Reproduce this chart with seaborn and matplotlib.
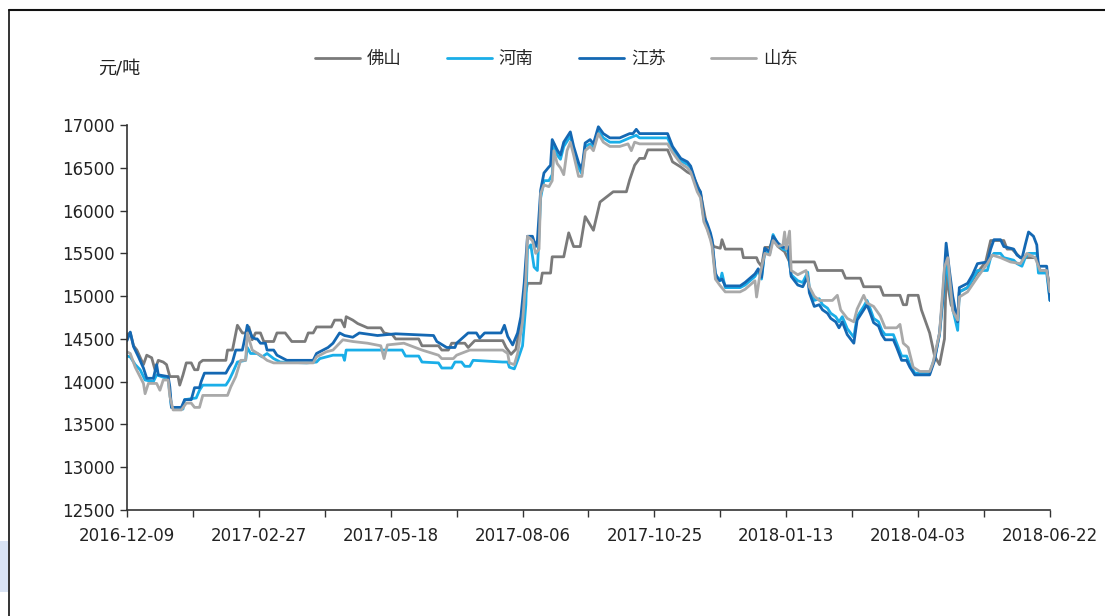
import pandas as pd
import seaborn as sns
import matplotlib.pyplot as plt
import matplotlib.patches as mpatches
from matplotlib.lines import Line2D

# Daily price data, read as change points (days since 2016-12-09)
start = pd.Timestamp('2016-12-09')
end = pd.Timestamp('2018-06-22')

fs_day = [0, 2, 4, 6, 10, 12, 15, 17, 19, 22, 24, 26, 31, 32, 34, 36, 39, 41, 43, 44, 46, 60, 61, 64, 67, 70,
          73, 74, 76, 78, 81, 83, 89, 91, 96, 100, 108, 110, 113, 115, 124, 126, 130, 132, 133, 137, 140, 146,
          154, 156, 161, 163, 177, 179, 189, 191, 195, 197, 205, 207, 211, 228, 230, 233, 236, 238, 241, 243,
          251, 252, 257, 258, 265, 268, 271, 275, 278, 283, 287, 291, 295, 303, 305, 308, 311, 314, 316, 328,
          330, 331, 336, 340, 343, 346, 348, 350, 352, 354, 356, 360, 361, 363, 373, 374, 382, 383, 385, 387,
          390, 392, 395, 399, 402, 417, 419, 434, 436, 445, 447, 457, 459, 469, 471, 473, 474, 480, 482, 487,
          490, 493, 496, 497, 500, 504, 505, 510, 515, 521, 524, 532, 534, 537, 542, 552, 554, 558, 560]
fs_val = [14550, 14570, 14420, 14370, 14200, 14310, 14280, 14140, 14250, 14230, 14200, 14060, 14060, 13960,
          14080, 14220, 14220, 14140, 14140, 14220, 14250, 14250, 14370, 14370, 14660, 14570, 14570, 14640,
          14490, 14570, 14570, 14470, 14470, 14570, 14570, 14470, 14470, 14570, 14570, 14640, 14640, 14720,
          14720, 14640, 14760, 14720, 14680, 14630, 14630, 14570, 14550, 14500, 14500, 14420, 14420, 14370,
          14370, 14450, 14450, 14400, 14480, 14480, 14400, 14320, 14380, 14600, 14950, 15150, 15150, 15270,
          15270, 15460, 15460, 15740, 15580, 15580, 15930, 15770, 16100, 16160, 16220, 16220, 16360, 16530,
          16610, 16610, 16710, 16710, 16620, 16570, 16510, 16450, 16420, 16300, 16200, 16000, 15800, 15680,
          15580, 15560, 15660, 15550, 15550, 15450, 15450, 15400, 15350, 15570, 15570, 15680, 15580, 15520,
          15400, 15400, 15300, 15300, 15210, 15210, 15110, 15110, 15010, 15010, 14900, 14900, 15010, 15010,
          14840, 14570, 14300, 14200, 14500, 15250, 14900, 14750, 15050, 15100, 15250, 15400, 15650, 15650,
          15550, 15550, 15450, 15450, 15300, 15300, 15100]

js_day = [0, 2, 4, 7, 10, 12, 16, 18, 19, 25, 26, 27, 33, 35, 39, 41, 44, 45, 47, 60, 62, 64, 66, 70, 72, 73,
          76, 78, 79, 81, 84, 85, 89, 91, 97, 113, 115, 119, 122, 125, 129, 132, 137, 141, 152, 163, 186, 188,
          194, 199, 200, 207, 212, 214, 217, 227, 229, 231, 234, 237, 239, 241, 243, 246, 248, 249, 251, 253,
          256, 257, 258, 261, 263, 265, 269, 271, 274, 276, 278, 281, 283, 286, 289, 293, 299, 305, 307, 309,
          311, 328, 331, 336, 340, 342, 346, 348, 350, 352, 354, 355, 357, 359, 361, 363, 372, 375, 378, 381,
          383, 385, 387, 390, 392, 395, 398, 401, 403, 407, 410, 413, 414, 417, 420, 422, 425, 427, 430, 432,
          434, 437, 441, 443, 447, 449, 451, 453, 456, 458, 460, 465, 467, 470, 473, 475, 478, 487, 490, 493,
          495, 497, 499, 501, 504, 505, 510, 513, 516, 522, 524, 526, 530, 532, 538, 540, 543, 545, 547, 550,
          552, 553, 558, 560]
js_val = [14480, 14580, 14410, 14290, 14160, 14040, 14040, 14200, 14080, 14060, 13940, 13700, 13700, 13790,
          13790, 13930, 13930, 14000, 14100, 14100, 14170, 14230, 14370, 14370, 14550, 14660, 14520, 14500,
          14500, 14450, 14450, 14370, 14370, 14310, 14250, 14250, 14330, 14370, 14400, 14450, 14570, 14540,
          14520, 14570, 14540, 14560, 14540, 14470, 14400, 14400, 14450, 14570, 14570, 14510, 14570, 14570,
          14660, 14530, 14430, 14570, 14760, 15150, 15700, 15700, 15580, 15650, 16240, 16440, 16510, 16530,
          16830, 16710, 16650, 16800, 16920, 16750, 16560, 16480, 16790, 16830, 16780, 16980, 16900, 16850,
          16850, 16900, 16900, 16950, 16900, 16900, 16750, 16610, 16570, 16520, 16280, 16220, 15930, 15850,
          15740, 15660, 15270, 15180, 15200, 15120, 15120, 15160, 15210, 15260, 15320, 15220, 15560, 15520,
          15700, 15620, 15570, 15580, 15230, 15130, 15110, 15230, 15040, 14880, 14900, 14840, 14800, 14740,
          14700, 14630, 14700, 14550, 14450, 14720, 14840, 14900, 14800, 14690, 14650, 14550, 14490, 14490,
          14400, 14250, 14250, 14170, 14080, 14080, 14250, 14570, 15000, 15620, 15300, 15000, 14700, 15100,
          15150, 15250, 15380, 15400, 15550, 15660, 15660, 15580, 15550, 15480, 15440, 15600, 15750, 15700,
          15600, 15350, 15350, 14950]

hn_day = [0, 2, 5, 8, 11, 16, 18, 21, 25, 26, 27, 34, 35, 42, 44, 46, 60, 62, 64, 67, 72, 73, 75, 79, 82, 85,
          89, 93, 109, 115, 117, 125, 131, 132, 133, 154, 167, 169, 177, 179, 189, 191, 197, 199, 203, 205,
          208, 210, 228, 231, 232, 235, 237, 240, 242, 243, 245, 247, 249, 251, 253, 256, 258, 259, 261, 263,
          265, 269, 271, 274, 276, 278, 281, 283, 286, 289, 293, 299, 305, 309, 311, 328, 331, 336, 340, 342,
          346, 348, 350, 352, 354, 355, 357, 360, 361, 363, 372, 375, 378, 381, 383, 385, 387, 390, 392, 395,
          398, 401, 403, 407, 410, 413, 414, 417, 420, 422, 425, 427, 430, 432, 434, 437, 441, 443, 447, 449,
          451, 453, 456, 458, 460, 465, 467, 470, 473, 475, 478, 487, 490, 493, 495, 497, 499, 501, 504, 505,
          510, 513, 516, 522, 524, 526, 530, 532, 538, 540, 543, 545, 547, 552, 553, 558, 560]
hn_val = [14300, 14290, 14200, 14140, 14020, 14000, 14080, 14060, 14030, 13870, 13700, 13680, 13790, 13810,
          13900, 13960, 13960, 14020, 14100, 14230, 14250, 14400, 14330, 14330, 14290, 14330, 14270, 14230,
          14220, 14230, 14270, 14310, 14310, 14250, 14370, 14370, 14370, 14300, 14300, 14230, 14220, 14160,
          14160, 14230, 14230, 14180, 14180, 14250, 14230, 14230, 14170, 14150, 14250, 14420, 14900, 15550,
          15600, 15340, 15300, 16150, 16350, 16350, 16420, 16780, 16650, 16600, 16750, 16870, 16700, 16500,
          16430, 16750, 16780, 16730, 16930, 16850, 16800, 16800, 16850, 16880, 16850, 16850, 16720, 16580,
          16540, 16500, 16250, 16180, 15900, 15820, 15700, 15620, 15250, 15180, 15270, 15100, 15100, 15130,
          15180, 15230, 15300, 15200, 15530, 15500, 15720, 15600, 15550, 15530, 15250, 15180, 15160, 15280,
          15100, 14950, 14970, 14900, 14860, 14800, 14760, 14700, 14760, 14620, 14520, 14760, 14880, 14950,
          14850, 14740, 14700, 14600, 14550, 14550, 14450, 14300, 14300, 14200, 14100, 14100, 14280, 14550,
          14950, 15400, 15150, 14850, 14600, 15050, 15100, 15200, 15300, 15300, 15450, 15500, 15500, 15450,
          15420, 15380, 15350, 15450, 15500, 15500, 15270, 15270, 14950]

sd_day = [0, 2, 5, 10, 11, 13, 18, 20, 22, 25, 26, 28, 33, 36, 39, 41, 44, 46, 61, 63, 66, 69, 72, 73, 76, 81,
          85, 89, 113, 115, 121, 125, 129, 131, 137, 146, 154, 156, 158, 168, 179, 189, 191, 198, 200, 208,
          228, 231, 232, 235, 237, 240, 242, 243, 246, 248, 250, 251, 253, 256, 258, 259, 261, 263, 265, 267,
          269, 271, 274, 276, 278, 281, 283, 286, 289, 293, 299, 304, 306, 308, 311, 328, 331, 336, 340, 342,
          346, 348, 350, 352, 354, 355, 357, 360, 363, 372, 375, 378, 381, 382, 384, 387, 390, 392, 395, 398,
          399, 400, 402, 403, 407, 412, 414, 417, 420, 428, 431, 433, 437, 441, 443, 447, 449, 453, 457, 460,
          467, 469, 471, 474, 477, 481, 487, 489, 493, 496, 498, 501, 504, 505, 510, 516, 522, 525, 530, 536,
          542, 546, 551, 554, 558, 560]
sd_val = [14350, 14330, 14170, 13980, 13860, 13980, 13980, 13900, 14020, 14020, 13830, 13670, 13670, 13750,
          13750, 13700, 13700, 13840, 13840, 13940, 14060, 14250, 14250, 14570, 14370, 14310, 14250, 14220,
          14220, 14290, 14350, 14370, 14450, 14490, 14470, 14450, 14420, 14270, 14430, 14450, 14370, 14310,
          14270, 14270, 14310, 14370, 14370, 14330, 14220, 14200, 14330, 14700, 15200, 15700, 15650, 15500,
          15550, 16200, 16300, 16280, 16350, 16700, 16550, 16500, 16420, 16700, 16800, 16650, 16400, 16400,
          16700, 16750, 16700, 16900, 16800, 16750, 16750, 16780, 16700, 16800, 16780, 16780, 16680, 16550,
          16500, 16450, 16220, 16150, 15870, 15780, 15660, 15580, 15200, 15120, 15050, 15050, 15080, 15130,
          15180, 14990, 15250, 15500, 15480, 15650, 15580, 15600, 15750, 15550, 15760, 15300, 15250, 15300,
          15110, 15000, 14950, 14950, 15010, 14840, 14740, 14700, 14850, 15010, 14920, 14880, 14770, 14630,
          14630, 14670, 14450, 14400, 14170, 14120, 14120, 14220, 14570, 15340, 15450, 14830, 14720, 14990,
          15050, 15220, 15380, 15480, 15450, 15400, 15380, 15500, 15450, 15300, 15300, 15050]

regions = ['佛山', '河南', '江苏', '山东']
colors = {'佛山': '#7a7a7a', '河南': '#1aaee8', '江苏': '#1468b3', '山东': '#a9a9a9'}

frames = []
for name, days, vals in [('佛山', fs_day, fs_val), ('河南', hn_day, hn_val),
                         ('江苏', js_day, js_val), ('山东', sd_day, sd_val)]:
    frames.append(pd.DataFrame({'date': start + pd.to_timedelta(days, unit='D'),
                                'price': vals, 'region': name}))
df = pd.concat(frames, ignore_index=True)

sns.set_theme(style='white')
plt.rcParams['font.family'] = ['DejaVu Sans', 'Noto Sans CJK SC']

fig = plt.figure(figsize=(11.05, 6.16), dpi=100)
ax = fig.add_axes([0.1149, 0.172, 0.8353, 0.625])

sns.lineplot(data=df, x='date', y='price', hue='region', hue_order=regions,
             palette=colors, estimator=None, linewidth=2.0, ax=ax)

ax.set_xlim(start, end)
ax.set_ylim(12500, 17000)
ax.set_yticks(range(12500, 17001, 500))
ticks = pd.date_range(start, end, freq='40D')
ax.set_xticks(ticks)
ax.set_xticklabels([t.strftime('%Y-%m-%d') if i % 2 == 0 else '' for i, t in enumerate(ticks)])
ax.tick_params(axis='both', which='major', direction='out', length=5, width=1,
               color='#333333', labelsize=12, labelcolor='#222222', left=True, bottom=True)
ax.tick_params(axis='x', pad=7)
ax.set_xlabel('')
ax.set_ylabel('')

for side in ['top', 'right']:
    ax.spines[side].set_visible(False)
for side in ['left', 'bottom']:
    ax.spines[side].set_color('#333333')
    ax.spines[side].set_linewidth(1.2)

ax.text(-0.008, 1.148, '元/吨', transform=ax.transAxes, ha='center', va='center',
        fontsize=13, color='#222222')

ax.legend(loc='center', bbox_to_anchor=(0.465, 1.172), ncol=4, frameon=False,
          fontsize=12.5, handlelength=2.6, handletextpad=0.4, columnspacing=2.6)

# outer frame and side tab
fig.add_artist(Line2D([9 / 1105, 9 / 1105], [0, 1 - 10 / 616], color='#111111', lw=1.2))
fig.add_artist(Line2D([9 / 1105, 1], [1 - 10 / 616, 1 - 10 / 616], color='#111111', lw=1.5))
fig.add_artist(mpatches.Rectangle((0, 1 - 592 / 616), 8 / 1105, 51 / 616,
                                  transform=fig.transFigure, color='#d9e3f4', lw=0))

fig.savefig('out.png', dpi=100)
